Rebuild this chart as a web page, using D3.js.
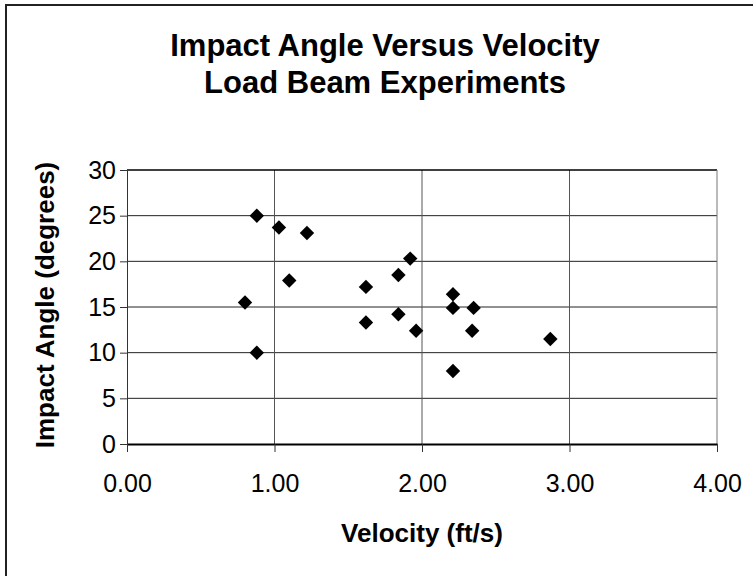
<!DOCTYPE html>
<html>
<head>
<meta charset="utf-8">
<script src="https://cdn.jsdelivr.net/npm/d3@7"></script>
<style>
  html, body { margin: 0; padding: 0; background: #fff; }
  svg { display: block; font-family: "Liberation Sans", Arial, sans-serif; }
</style>
</head>
<body>
<svg id="chart" width="753" height="576"></svg>
<script>
// Load beam experiments: velocity (ft/s) and impact angle (degrees)
const velocity = [0.88, 1.03, 1.22, 1.92, 1.10, 1.62, 1.84, 0.80, 1.62, 1.84, 1.96, 0.88, 2.21, 2.21, 2.35, 2.34, 2.87, 2.21];
const impactAngle = [25.0, 23.7, 23.1, 20.3, 17.9, 17.2, 18.5, 15.5, 13.3, 14.2, 12.4, 10.0, 16.4, 14.9, 14.9, 12.4, 11.5, 8.0];

const xTicks = [0, 1, 2, 3, 4];
const yTicks = [0, 5, 10, 15, 20, 25, 30];

const titleLines = ["Impact Angle Versus Velocity", "Load Beam Experiments"];
const xTitle = "Velocity (ft/s)";
const yTitle = "Impact Angle (degrees)";

const svg = d3.select("#chart");
const plot = { left: 127, right: 717, top: 170, bottom: 444 };

const x = d3.scaleLinear().domain([0, 4]).range([plot.left, plot.right]);
const y = d3.scaleLinear().domain([0, 30]).range([plot.bottom, plot.top]);

// outer chart frame (left and top edges fall inside the canvas)
svg.append("rect")
  .attr("x", 6).attr("y", 5).attr("width", 800).attr("height", 700)
  .attr("fill", "#fff").attr("stroke", "#222").attr("stroke-width", 2);

// title
svg.append("g").selectAll("text").data(titleLines).join("text")
  .attr("x", 385).attr("y", (d, i) => 56 + i * 37)
  .attr("text-anchor", "middle")
  .attr("font-size", 31).attr("font-weight", "bold").attr("fill", "#000")
  .text(d => d);

// gridlines
const grid = svg.append("g");
grid.selectAll("line.h").data(yTicks.filter(t => t > 0 && t < 30)).join("line")
  .attr("class", "h")
  .attr("x1", plot.left).attr("x2", plot.right)
  .attr("y1", d => y(d)).attr("y2", d => y(d))
  .attr("stroke", "#222").attr("stroke-width", 1);
grid.selectAll("line.v").data(xTicks.filter(t => t > 0 && t < 4)).join("line")
  .attr("class", "v")
  .attr("x1", d => x(d)).attr("x2", d => x(d))
  .attr("y1", plot.top).attr("y2", plot.bottom)
  .attr("stroke", "#555").attr("stroke-width", 1);

// plot area edges
svg.append("line").attr("x1", plot.left).attr("x2", plot.right)
  .attr("y1", plot.top).attr("y2", plot.top)
  .attr("stroke", "#000").attr("stroke-width", 1.6);
svg.append("line").attr("x1", plot.right).attr("x2", plot.right)
  .attr("y1", plot.top).attr("y2", plot.bottom)
  .attr("stroke", "#777").attr("stroke-width", 1);

// axes
const xAxis = svg.append("g")
  .attr("transform", `translate(0,${plot.bottom})`)
  .call(d3.axisBottom(x).tickValues(xTicks).tickFormat(d3.format(".2f"))
    .tickSize(8).tickSizeOuter(0).tickPadding(22));
const yAxis = svg.append("g")
  .attr("transform", `translate(${plot.left},0)`)
  .call(d3.axisLeft(y).tickValues(yTicks)
    .tickSize(7).tickSizeOuter(0).tickPadding(4));

[xAxis, yAxis].forEach(g => {
  g.selectAll("text")
    .attr("font-family", "\"Liberation Sans\", Arial, sans-serif")
    .attr("font-size", 25).attr("fill", "#000");
  g.selectAll(".tick line").attr("stroke", "#333").attr("stroke-width", 1);
});
xAxis.select(".domain").attr("stroke", "#000").attr("stroke-width", 2);
yAxis.select(".domain").attr("stroke", "#333").attr("stroke-width", 1);

// axis titles
svg.append("text")
  .attr("x", (plot.left + plot.right) / 2).attr("y", 542)
  .attr("text-anchor", "middle")
  .attr("font-size", 26).attr("font-weight", "bold").attr("fill", "#000")
  .text(xTitle);
svg.append("text")
  .attr("transform", `translate(54,${(plot.top + plot.bottom) / 2 - 2}) rotate(-90)`)
  .attr("text-anchor", "middle")
  .attr("font-size", 26).attr("font-weight", "bold").attr("fill", "#000")
  .text(yTitle);

// diamond markers
const diamond = d3.symbol().type(d3.symbolSquare).size(104);
svg.append("g").selectAll("path").data(velocity.map((v, i) => [v, impactAngle[i]])).join("path")
  .attr("d", diamond)
  .attr("transform", d => `translate(${x(d[0])},${y(d[1])}) rotate(45)`)
  .attr("fill", "#000");
</script>
</body>
</html>
